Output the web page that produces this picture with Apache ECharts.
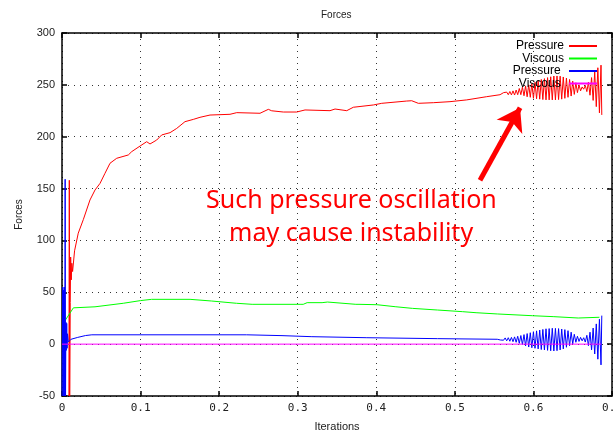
<!DOCTYPE html>
<html>
<head>
<meta charset="utf-8">
<script src="https://cdn.jsdelivr.net/npm/echarts@6/dist/echarts.min.js"></script>
<style>
html, body { margin: 0; padding: 0; background: #fff; }
#forces-chart { width: 615px; height: 434px; }
</style>
</head>
<body>
<div id="forces-chart"></div>
<script>
// tick labels
const xTicks = [0, 0.1, 0.2, 0.3, 0.4, 0.5, 0.6, 0.7];
const yTicks = [-50, 0, 50, 100, 150, 200, 250, 300];

// Pressure (red) : [iteration, force]
const pressureRed = [
  [0.0088, -50], [0.0093, 158], [0.0098, -50], [0.0105, 40], [0.011, 84], [0.0118, 62],
  [0.0125, 78], [0.0135, 70], [0.016, 90], [0.0207, 107], [0.0271, 120], [0.0356, 139],
  [0.042, 148.6], [0.0484, 155], [0.0547, 164.7], [0.0611, 174.4], [0.0696, 179.2],
  [0.0844, 182.4], [0.0887, 185.6], [0.0993, 191], [0.1078, 195.2], [0.112, 193],
  [0.1205, 196.8], [0.1269, 201.7], [0.1375, 203.9], [0.146, 208], [0.1565, 214.5],
  [0.1671, 216.7], [0.1756, 218.7], [0.1884, 220.9], [0.2138, 221.6], [0.2224, 223.2],
  [0.252, 222.6], [0.2626, 226.4], [0.2669, 225], [0.2817, 223.8], [0.2987, 223.8],
  [0.3093, 225.8], [0.3411, 225.1], [0.3475, 226.7], [0.3624, 225.1], [0.3708, 228.4],
  [0.3962, 230.6], [0.4069, 232.2], [0.4387, 234.4], [0.4451, 234.7], [0.4535, 232.2],
  [0.4726, 232.8], [0.4938, 233.8], [0.5151, 235.5], [0.5405, 238.6], [0.5575, 240.5],
  [0.558, 242.0], [0.560, 241.0], [0.562, 242.5], [0.564, 240.8], [0.566, 243.0],
  [0.568, 240.5], [0.570, 243.6], [0.572, 240.3], [0.574, 244.2], [0.576, 240.2],
  [0.578, 245.0], [0.580, 240.5], [0.582, 246.5], [0.584, 240.5], [0.586, 247.8],
  [0.588, 239.5], [0.590, 249.0], [0.592, 238.5], [0.594, 250.0], [0.596, 238.0],
  [0.598, 251.2], [0.600, 237.0], [0.602, 252.5], [0.604, 236.6], [0.606, 254.0],
  [0.608, 236.2], [0.610, 255.2], [0.612, 235.8], [0.614, 256.0], [0.616, 235.5],
  [0.618, 257.0], [0.620, 235.5], [0.622, 257.8], [0.624, 235.5], [0.626, 258.5],
  [0.628, 235.5], [0.630, 258.6], [0.632, 235.8], [0.634, 258.4], [0.636, 236.2],
  [0.638, 257.6], [0.640, 237.0], [0.642, 256.5], [0.644, 238.0], [0.646, 255.2],
  [0.648, 239.2], [0.650, 253.6], [0.652, 240.8], [0.654, 252.0], [0.656, 242.5],
  [0.658, 250.0], [0.660, 244.2], [0.662, 248.0], [0.664, 245.8], [0.666, 249.5],
  [0.668, 243.5], [0.670, 252.5], [0.672, 240.0], [0.674, 257.0], [0.676, 235.0],
  [0.678, 262.5], [0.680, 229.0], [0.682, 266.5], [0.684, 223.0], [0.686, 269.0],
  [0.687, 221.0]
];

// Viscous (green)
const viscousGreen = [
  [0.0015, 18], [0.005, 24], [0.0145, 35], [0.042, 36], [0.078, 39.4], [0.100, 42],
  [0.114, 43.2], [0.163, 43.2], [0.19, 41.6], [0.222, 39.4], [0.242, 38.4], [0.303, 38.4],
  [0.305, 36.5], [0.307, 38.4], [0.312, 40], [0.331, 40], [0.332, 41], [0.338, 40.6],
  [0.374, 38.4], [0.376, 40.2], [0.378, 38.4], [0.401, 38], [0.424, 36.1], [0.446, 34.5],
  [0.478, 32.9], [0.51, 31.3], [0.527, 30.3], [0.554, 29.1], [0.599, 27.4], [0.626, 26.5],
  [0.657, 25.2], [0.684, 25.9]
];

// Pressure (blue)
const pressureBlue = [
  [0, -50], [0.001, 55], [0.0015, -50], [0.002, 52], [0.0025, -50], [0.003, 55],
  [0.0035, -50], [0.004, 159], [0.0045, -50], [0.005, 21], [0.0055, -6], [0.006, 20],
  [0.0065, -4], [0.007, 10], [0.008, 2], [0.0115, 4.7], [0.02, 6.5], [0.03, 8.3],
  [0.038, 9], [0.235, 9], [0.236, 8.2], [0.28, 8.2], [0.281, 7.2], [0.318, 7.2],
  [0.319, 6.2], [0.388, 6.2], [0.389, 5.3], [0.478, 5.3], [0.479, 4.7], [0.554, 4.7],
  [0.556, 5.5], [0.558, 4.0], [0.560, 5.6], [0.562, 3.8], [0.564, 6.0], [0.566, 3.2],
  [0.568, 6.2], [0.570, 2.8], [0.572, 6.5], [0.574, 2.4], [0.576, 7.0], [0.578, 1.8],
  [0.580, 7.6], [0.582, 0.8], [0.584, 8.3], [0.586, -0.3], [0.588, 9.2], [0.590, -1.8],
  [0.592, 10.2], [0.594, -2.8], [0.596, 11.0], [0.598, -3.5], [0.600, 12.0], [0.602, -4.0],
  [0.604, 12.8], [0.606, -4.6], [0.608, 13.6], [0.610, -5.2], [0.612, 14.2], [0.614, -5.6],
  [0.616, 14.8], [0.618, -6.0], [0.620, 15.0], [0.622, -6.4], [0.624, 15.3], [0.626, -6.6],
  [0.628, 15.2], [0.630, -6.3], [0.632, 15.0], [0.634, -5.6], [0.636, 14.6], [0.638, -4.6],
  [0.640, 14.0], [0.642, -3.0], [0.644, 13.0], [0.646, -1.5], [0.648, 11.5], [0.650, 0.2],
  [0.652, 9.5], [0.654, 1.8], [0.656, 7.6], [0.658, 2.6], [0.660, 6.5], [0.662, 3.2],
  [0.664, 6.2], [0.666, 2.0], [0.668, 8.5], [0.670, -1.5], [0.672, 11.5], [0.674, -5.5],
  [0.676, 15.5], [0.678, -9.5], [0.680, 19.5], [0.682, -14.5], [0.684, 24.0], [0.686, -20.0],
  [0.687, 27.5]
];

// Viscous (magenta)
const viscousMagenta = [[0, 0], [0.686, 0]];

// annotation arrow (data units)
const arrowFrom = [0.532, 158];
const arrowTo = [0.583, 228];

const myChart = echarts.init(document.getElementById('forces-chart'));

const baseFont = 'Liberation Sans, Arial, sans-serif';
const names = ['Pressure', 'Viscous', 'Pressure ', 'Viscous '];

function axisCommon(show) {
  return {
    axisLine: { show: true, onZero: false, lineStyle: { color: '#000', width: 1.5 } },
    axisTick: { show: true, inside: true, length: 5, lineStyle: { color: '#000', width: 1.5 } },
    axisLabel: { show: show, color: '#222', fontSize: 11, fontFamily: baseFont },
    splitLine: { show: false }
  };
}

const option = {
  animation: false,
  backgroundColor: '#fff',
  title: {
    text: 'Forces',
    left: 316,
    top: 5,
    textStyle: { color: '#222', fontSize: 10, fontWeight: 'normal', fontFamily: baseFont }
  },
  legend: {
    orient: 'vertical',
    right: 13,
    top: 35,
    align: 'right',
    itemWidth: 28,
    itemHeight: 2,
    itemGap: 0.5,
    icon: 'rect',
    data: names,
    textStyle: { color: '#000', fontSize: 12, lineHeight: 12, fontFamily: baseFont }
  },
  grid: { left: 62, right: 3, top: 33, bottom: 38, outerBoundsMode: 'none' },
  xAxis: [
    Object.assign(axisCommon(true), {
      type: 'value',
      min: xTicks[0],
      max: xTicks[xTicks.length - 1],
      interval: 0.1,
      position: 'bottom',
      name: 'Iterations',
      nameLocation: 'middle',
      nameGap: 25,
      nameTextStyle: { color: '#222', fontSize: 11, fontFamily: baseFont },
      axisLabel: { color: '#222', fontSize: 11, margin: 7, fontFamily: 'DejaVu Sans Mono, monospace' },
      splitLine: { show: true, lineStyle: { color: '#333', width: 1, type: [1, 5] } }
    }),
    Object.assign(axisCommon(false), {
      type: 'value', min: xTicks[0], max: xTicks[xTicks.length - 1], interval: 0.1, position: 'top'
    })
  ],
  yAxis: [
    Object.assign(axisCommon(true), {
      type: 'value',
      min: yTicks[0],
      max: yTicks[yTicks.length - 1],
      interval: 50,
      position: 'left',
      name: 'Forces',
      nameLocation: 'middle',
      nameGap: 38,
      nameTextStyle: { color: '#222', fontSize: 10, fontFamily: baseFont },
      axisLabel: { color: '#222', fontSize: 11, margin: 7, fontFamily: baseFont },
      splitLine: { show: true, lineStyle: { color: '#333', width: 1, type: [1, 5] } }
    }),
    Object.assign(axisCommon(false), {
      type: 'value', min: yTicks[0], max: yTicks[yTicks.length - 1], interval: 50, position: 'right'
    })
  ],
  series: [
    {
      name: names[0],
      type: 'line',
      data: pressureRed,
      showSymbol: false,
      clip: true,
      color: '#ff0000',
      lineStyle: { width: 1, color: '#ff0000' },
      markLine: {
        silent: true,
        symbol: ['none', 'arrow'],
        symbolSize: 22,
        label: { show: false },
        lineStyle: { color: '#ff0000', width: 5, type: 'solid' },
        data: [[{ coord: arrowFrom }, { coord: arrowTo }]]
      }
    },
    {
      name: names[1],
      type: 'line',
      data: viscousGreen,
      showSymbol: false,
      clip: true,
      color: '#00ff00',
      lineStyle: { width: 1, color: '#00ff00' }
    },
    {
      name: names[2],
      type: 'line',
      data: pressureBlue,
      showSymbol: false,
      clip: true,
      color: '#0000ff',
      lineStyle: { width: 1, color: '#0000ff' }
    },
    {
      name: names[3],
      type: 'line',
      data: viscousMagenta,
      showSymbol: false,
      clip: true,
      color: '#ff00ff',
      lineStyle: { width: 1, color: '#ff00ff' }
    }
  ],
  graphic: [
    {
      type: 'text',
      left: 206,
      top: 188,
      style: {
        text: 'Such pressure oscillation',
        fill: '#ff0000',
        fontSize: 25,
        fontFamily: 'Noto Sans, sans-serif'
      }
    },
    {
      type: 'text',
      left: 229,
      top: 221,
      style: {
        text: 'may cause instability',
        fill: '#ff0000',
        fontSize: 25,
        fontFamily: 'Noto Sans, sans-serif'
      }
    }
  ]
};

myChart.setOption(option);

window.addEventListener('resize', function () {
  myChart.resize();
});
</script>
</body>
</html>
